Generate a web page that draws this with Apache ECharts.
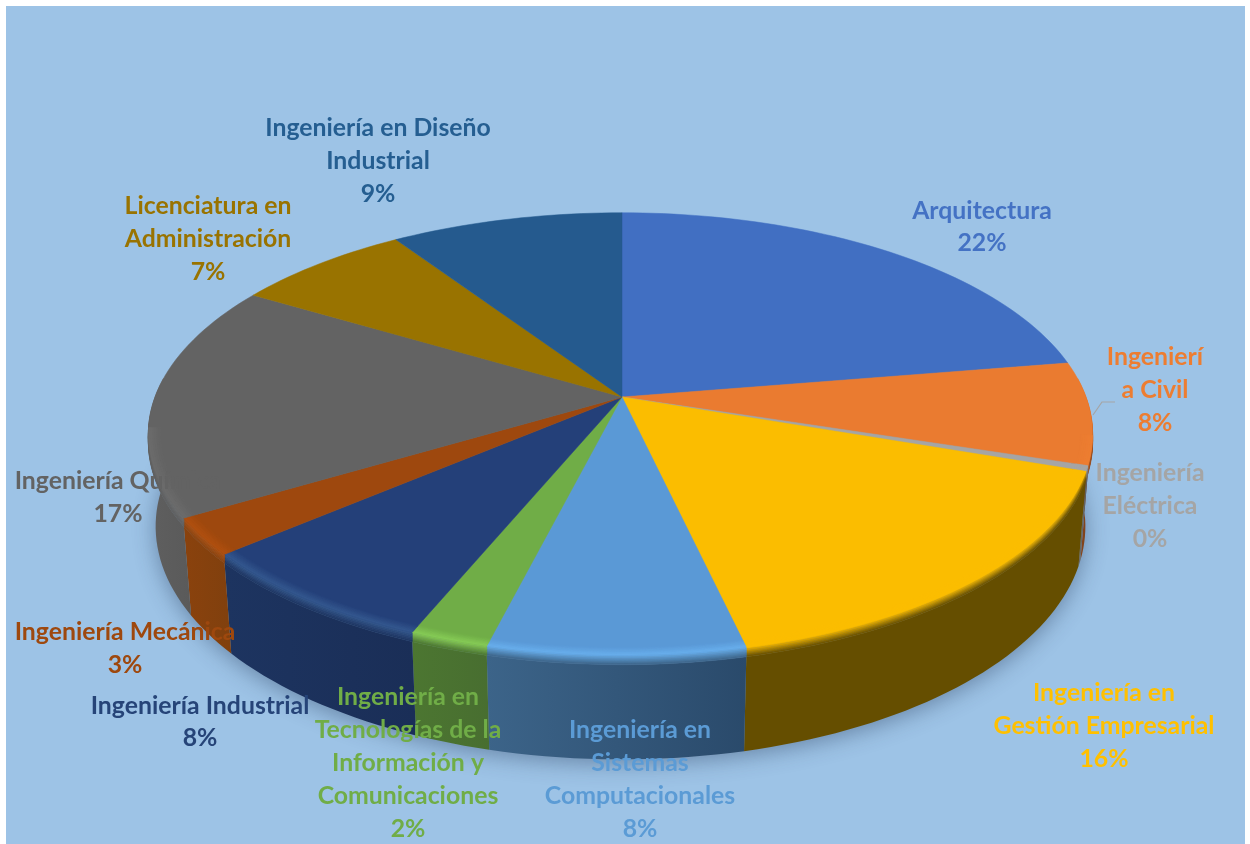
<!DOCTYPE html>
<html><head><meta charset="utf-8">
<style>html,body{margin:0;padding:0;background:#fff}#c{width:1250px;height:844px}</style>
<script src="https://cdn.jsdelivr.net/npm/echarts@6/dist/echarts.min.js"></script>
</head><body><div id="c"></div>
<script>
// ---- data
const categories = ['Arquitectura','Ingeniería Civil','Ingeniería Eléctrica','Ingeniería en Gestión Empresarial','Ingeniería en Sistemas Computacionales','Ingeniería en Tecnologías de la Información y Comunicaciones','Ingeniería Industrial','Ingeniería Mecánica','Ingeniería Química','Licenciatura en Administración','Ingeniería en Diseño Industrial'];
const values = [22.4,7.5,0.4,16.1,7.5,2.3,7.5,2.7,17.2,7.1,9.3];
const labelTexts = ['Arquitectura','Ingenierí\na Civil','Ingeniería\nEléctrica','Ingeniería en\nGestión Empresarial','Ingeniería en\nSistemas\nComputacionales','Ingeniería en\nTecnologías de la\nInformación y\nComunicaciones','Ingeniería Industrial','Ingeniería Mecánica','Ingeniería Química','Licenciatura en\nAdministración','Ingeniería en Diseño\nIndustrial'];
// ---- styles
const topColors  = ['#4472c4','#ed7d31','#a5a5a5','#ffc000','#5b9bd5','#70ad47','#264478','#9e480e','#636363','#997300','#255e91'];
const topFill    = ['#416fc2','#ea7b30','#a5a5a5','#fbbd00','#5a99d6','#70ad47','#244079','#9e480e','#636363','#997300','#255a8e'];
const highlights = ['#4472c4','#ed7d31','#a5a5a5','#fbbd00','#68aeec','#86cc56','#34588f','#b0500f','#6c6c6c','#997300','#255e91'];
const wallLeft   = ['#2f5290','#8f4a1e','#6c6c6c','#654e00','#3c6489','#4c7631','#1d3460','#8a420d','#5f5f5f','#6a5000','#1b4368'];
const wallRight  = ['#2f5290','#7a3f1a','#5c5c5c','#654e00','#2a4a6b','#486e30','#1a2e57','#80400e','#5a5a5a','#6a5000','#1b4368'];
// ---- layout
const geo = {cx:622, cy:397, aRight:464, aLeft:467, b:215, k:0.167, depth:91};
const labelAnchors = [[982,227],[1155,390],[1150,506],[1104,726],[640,779.5],[408,763],[200,722],[125,648.5],[118,497.5],[208,239],[378,161]];
const leaderPoints = [[1093,415],[1102,402],[1115,402]];

const total = values.reduce((s,v)=>s+v,0);
let acc = 0;
const sliceData = values.map((v,i)=>{const s=acc; acc+=v; return [i, s/total*360, acc/total*360];});

function project(deg, r, z){
  const t = deg*Math.PI/180, u=Math.sin(t), v=Math.cos(t);
  const s = 1/(1+geo.k*r*v);
  const a = u>=0 ? geo.aRight : geo.aLeft;
  return [geo.cx+a*r*u*s, geo.cy-geo.b*r*v*s+z*s];
}
function arc(a0,a1,r,z){
  const n=Math.max(2,Math.ceil((a1-a0)/1.5)), out=[];
  for(let i=0;i<=n;i++) out.push(project(a0+(a1-a0)*i/n,r,z));
  return out;
}
function hex(c){return [1,3,5].map(i=>parseInt(c.substr(i,2),16));}
function mix(c1,c2,t){const a=hex(c1),b=hex(c2);return 'rgb('+a.map((x,i)=>Math.round(x+(b[i]-x)*t)).join(',')+')';}
function band(a0,a1,p,q,fill){
  const pts=arc(a0,a1,p[0],p[1]).concat(arc(a0,a1,q[0],q[1]).reverse());
  return {type:'polygon',shape:{points:pts},style:{fill:fill,stroke:typeof fill==='string'?fill:null,lineWidth:0.6}};
}
function wallGrad(i){return {type:'linear',x:0,y:0,x2:1,y2:0,colorStops:[{offset:0,color:wallLeft[i]},{offset:1,color:wallRight[i]}]};}

function renderWall(params,api){
  const i=api.value(0), a0=Math.max(api.value(1),85), a1=Math.min(api.value(2),275);
  if(a1<=a0) return {type:'group',children:[]};
  const ch=[];
  ch.push(band(a0,a1,[1,8],[0.985,geo.depth],wallGrad(i)));
  const steps=6;
  for(let n=0;n<steps;n++){
    const t0=n/steps,t1=(n+1)/steps;
    ch.push(band(a0,a1,[1,t0*8],[1,t1*8],mix(highlights[i],wallLeft[i],(t0+t1)/2)));
  }
  return {type:'group',children:ch};
}
function renderTop(params,api){
  const i=api.value(0), a0=api.value(1), a1=api.value(2);
  const pts=[project(0,0,0)].concat(arc(a0,a1,1,0));
  return {type:'polygon',shape:{points:pts},style:{fill:topFill[i],stroke:topFill[i],lineWidth:0.5}};
}
function renderBevel(params,api){
  const i=api.value(0), a0=Math.max(api.value(1),100), a1=Math.min(api.value(2),262);
  if(a1<=a0) return {type:'group',children:[]};
  const ch=[],steps=6,r0=0.975;
  for(let n=0;n<steps;n++){
    const t0=n/steps,t1=(n+1)/steps;
    ch.push(band(a0,a1,[r0+(1-r0)*t0,0],[r0+(1-r0)*t1,0],mix(topFill[i],highlights[i],(t0+t1)/2)));
  }
  return {type:'group',children:ch};
}
function renderShadow(){
  return {type:'polygon',shape:{points:arc(0,360,0.985,geo.depth)},
    style:{fill:'#7f9dbb',shadowColor:'rgba(40,60,90,0.45)',shadowBlur:22,shadowOffsetY:4}};
}
function renderLabel(params,api){
  const i=api.value(0), pct=Math.round(values[i]/total*100)+'%';
  return {type:'text',x:labelAnchors[i][0],y:labelAnchors[i][1],
    style:{text:labelTexts[i]+'\n'+pct,fill:topColors[i],font:'bold 24.8px Lato',lineHeight:32.8,align:'center',verticalAlign:'middle'}};
}
const chart=echarts.init(document.getElementById('c'),null,{renderer:'canvas'});
chart.setOption({
  animation:false,
  backgroundColor:'#ffffff',
  graphic:[
    {type:'rect',z:-10,shape:{x:6,y:6,width:1239,height:838},style:{fill:'#9dc3e6'}},
    {type:'polyline',z:100,shape:{points:leaderPoints},style:{stroke:'#a5a5a5',lineWidth:1.2,fill:null}}
  ],
  series:[
    {type:'custom',coordinateSystem:'none',z:1,data:[[0]],renderItem:renderShadow,silent:true},
    {type:'custom',coordinateSystem:'none',z:2,data:sliceData,renderItem:renderWall,silent:true},
    {type:'custom',coordinateSystem:'none',z:3,data:sliceData,renderItem:renderTop,silent:true},
    {type:'custom',coordinateSystem:'none',z:4,data:sliceData,renderItem:renderBevel,silent:true},
    {type:'custom',coordinateSystem:'none',z:5,data:sliceData,renderItem:renderLabel,silent:true}
  ]
});
</script></body></html>
